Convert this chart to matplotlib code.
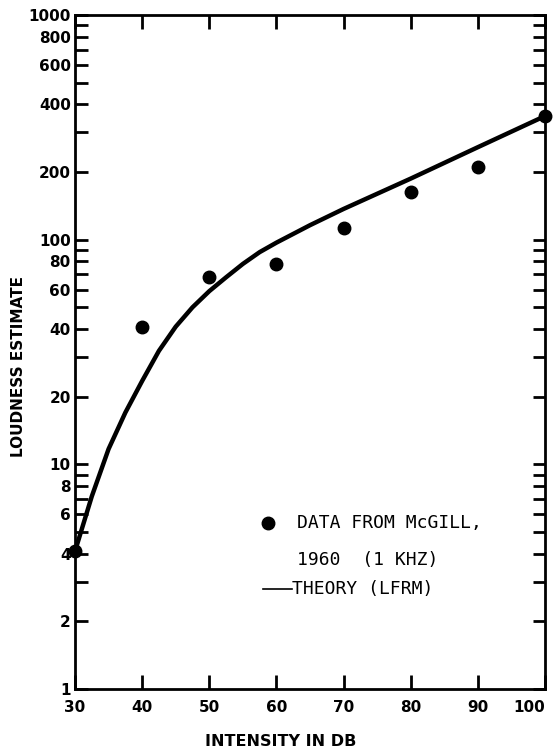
import matplotlib
matplotlib.use("Agg")
import matplotlib.pyplot as plt
from matplotlib.ticker import FixedLocator, NullFormatter, LogLocator

# McGill (1960) loudness estimates at 1 kHz
data_db = [30, 40, 50, 60, 70, 80, 90, 100]
data_loudness = [4.1, 41, 68, 78, 113, 163, 211, 355]

# theory curve (LFRM)
theory_db = [30, 32.5, 35, 37.5, 40, 42.5, 45, 47.5, 50, 52.5, 55, 57.5, 60,
             65, 70, 80, 90, 100]
theory_loudness = [4.1, 7.2, 11.7, 17, 23.5, 32, 41, 50, 59, 68, 78, 88, 97,
                   116, 137, 187, 258, 355]

x_ticks = [30, 40, 50, 60, 70, 80, 90, 100]
y_labels = [1, 2, 4, 6, 8, 10, 20, 40, 60, 80, 100, 200, 400, 600, 800, 1000]

fig = plt.figure(figsize=(5.58, 7.5), dpi=100)
ax = fig.add_axes([0.1344, 0.0813, 0.8423, 0.8987])

ax.plot(theory_db, theory_loudness, color="black", lw=3.2,
        solid_capstyle="round", solid_joinstyle="round")
ax.plot(data_db, data_loudness, "o", color="black", ms=9, clip_on=False)

ax.set_yscale("log")
ax.set_xlim(30, 100)
ax.set_ylim(1, 1000)

for s in ax.spines.values():
    s.set_linewidth(2)

lab_font = dict(family="DejaVu Sans", weight="bold", size=11)

ax.xaxis.set_major_locator(FixedLocator(x_ticks))
ax.set_xticklabels([str(v) for v in x_ticks], **lab_font)
ax.get_xticklabels()[-1].set_horizontalalignment("right")
ax.yaxis.set_major_locator(FixedLocator(y_labels))
ax.set_yticklabels([str(v) for v in y_labels], **lab_font)
ax.yaxis.set_minor_locator(LogLocator(base=10, subs=[3, 5, 7, 9]))
ax.yaxis.set_minor_formatter(NullFormatter())

ax.tick_params(axis="x", which="major", direction="in", length=10, width=2,
               top=True, pad=8)
ax.tick_params(axis="y", which="both", direction="in", length=9, width=2,
               right=True, pad=3)

ax.set_xlabel("INTENSITY IN DB", fontsize=11.5, fontweight="bold")
ax.xaxis.set_label_coords(0.438, -0.066)
ax.set_ylabel("LOUDNESS ESTIMATE", fontsize=11, fontweight="bold")
ax.yaxis.set_label_coords(-0.105, 0.478)

# hand-made key inside the axes
leg_font = dict(family="DejaVu Sans Mono", size=13,
                va="center", ha="left", transform=ax.transAxes)
ax.plot([0.411], [0.246], "o", color="black", ms=9, transform=ax.transAxes)
ax.text(0.472, 0.246, "DATA FROM McGILL,", **leg_font)
ax.text(0.472, 0.191, "1960  (1 KHZ)", **leg_font)
ax.plot([0.400, 0.462], [0.148, 0.148], color="black", lw=1.2, transform=ax.transAxes)
ax.text(0.462, 0.148, "THEORY (LFRM)", **leg_font)

fig.savefig("out.png", dpi=100)
